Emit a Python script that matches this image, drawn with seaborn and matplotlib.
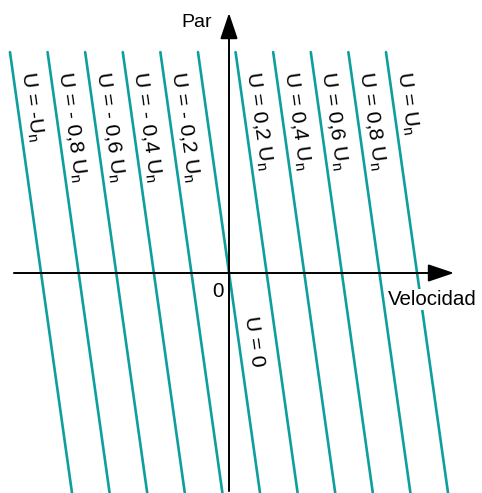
import matplotlib
matplotlib.use("Agg")
import pandas as pd
import matplotlib.pyplot as plt
import seaborn as sns

# ------------------------------
# estilo
# ------------------------------
sns.set_style("white")
plt.rcParams['font.family'] = ['Liberation Sans', 'DejaVu Sans']
plt.rcParams['text.color'] = 'black'
plt.rcParams['mathtext.fontset'] = 'custom'
plt.rcParams['mathtext.rm'] = 'Liberation Sans'
plt.rcParams['mathtext.it'] = 'Liberation Sans:italic'

# ------------------------------
# datos: rectas par-velocidad para cada tensión (fracción de Un)
# ------------------------------
tension = [-1.0, -0.8, -0.6, -0.4, -0.2, 0.0, 0.2, 0.4, 0.6, 0.8, 1.0]
par_sup = 1.175
par_inf = -1.17
vel_sup = [-1.165, -0.965, -0.765, -0.565, -0.365, -0.165, 0.035, 0.235, 0.435, 0.635, 0.835]
vel_inf = [-0.835, -0.635, -0.435, -0.235, -0.035, 0.165, 0.365, 0.565, 0.765, 0.965, 1.165]

etiquetas = [
    "U = -U$_\\mathrm{n}$",
    "U = - 0,8 U$_\\mathrm{n}$",
    "U = - 0,6 U$_\\mathrm{n}$",
    "U = - 0,4 U$_\\mathrm{n}$",
    "U = - 0,2 U$_\\mathrm{n}$",
    "U = 0",
    "U = 0,2 U$_\\mathrm{n}$",
    "U = 0,4 U$_\\mathrm{n}$",
    "U = 0,6 U$_\\mathrm{n}$",
    "U = 0,8 U$_\\mathrm{n}$",
    "U = U$_\\mathrm{n}$",
]
etiqueta_vel = [-1.107, -0.907, -0.707, -0.507, -0.307, 0.083, 0.093, 0.293, 0.493, 0.693, 0.893]
etiqueta_par = [1.069, 1.069, 1.069, 1.069, 1.069, -0.234, 1.069, 1.069, 1.069, 1.069, 1.069]

filas = []
for u, vs, vi in zip(tension, vel_sup, vel_inf):
    filas.append({"U": u, "velocidad": vs, "par": par_sup})
    filas.append({"U": u, "velocidad": vi, "par": par_inf})
df = pd.DataFrame(filas)

COLOR = "#0e9e9e"

# ------------------------------
# figura
# ------------------------------
fig = plt.figure(figsize=(4.82, 4.93), dpi=100)
ax = fig.add_axes([0, 0, 1, 1])

sns.lineplot(data=df, x="velocidad", y="par", units="U", estimator=None,
             sort=False, color=COLOR, lw=1.9, legend=False, ax=ax)

# ejes con flechas
flecha = dict(arrowstyle="-|>,head_length=0.8,head_width=0.27", mutation_scale=20,
              lw=1.4, color="black", shrinkA=0, shrinkB=0)
ax.annotate("", xy=(1.197, 0), xytext=(-1.144, 0), arrowprops=flecha, zorder=5)
ax.annotate("", xy=(0, 1.383), xytext=(0, -1.16), arrowprops=flecha, zorder=5)

# etiquetas de las rectas
for txt, x, y in zip(etiquetas, etiqueta_vel, etiqueta_par):
    ax.text(x, y, txt, rotation=-82, rotation_mode="anchor",
            ha="left", va="baseline", fontsize=15.2)

ax.text(-0.09, 1.309, "Par", ha="right", va="baseline", fontsize=14)
ax.text(0.846, -0.170, "Velocidad", ha="left", va="baseline", fontsize=14.8,
        bbox=dict(facecolor="white", edgecolor="none", pad=1))
ax.text(-0.027, -0.128, "0", ha="right", va="baseline", fontsize=14.8)

ax.set_xlim(-1.218, 1.3457)
ax.set_ylim(-1.1702, 1.4521)
ax.axis("off")

fig.savefig("out.png", dpi=100)
